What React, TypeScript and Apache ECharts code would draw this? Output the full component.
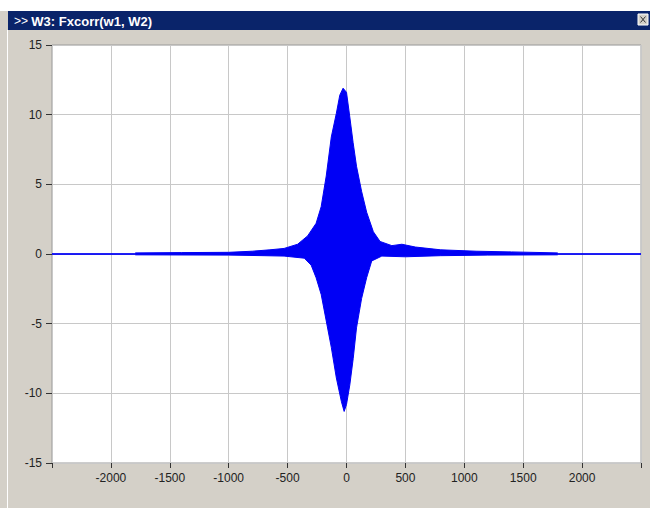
import React, { useEffect, useRef } from "react";
import * as echarts from "echarts";

const titleText = "W3: Fxcorr(w1, W2)";
const titlePrefix = ">>";

const xMin = -2500;
const xMax = 2500;
const xStep = 500;
const yMin = -15;
const yMax = 15;
const yStep = 5;

// upper envelope of the cross-correlation
const upperX = [-2500, -1800, -1790, -1400, -1000, -800, -650, -530, -415, -330, -258, -215, -172, -129, -86, -57, -29, 0, 27, 56, 85, 128, 171, 228, 285, 385, 470, 585, 800, 1100, 1400, 1790, 1800, 2500];
const upperY = [0, 0, 0.08, 0.1, 0.12, 0.2, 0.3, 0.4, 0.7, 1.3, 2.2, 3.4, 5.6, 8.4, 10.1, 11.4, 11.9, 11.6, 9.9, 8.0, 6.3, 4.5, 3.0, 1.6, 0.9, 0.6, 0.7, 0.5, 0.3, 0.2, 0.15, 0.08, 0, 0];

// lower envelope
const lowerX = [-2500, -1800, -1790, -1000, -700, -530, -358, -300, -258, -215, -172, -129, -86, -43, -20, 0, 28, 57, 85, 128, 171, 214, 300, 500, 800, 1200, 1790, 1800, 2500];
const lowerY = [0, 0, -0.06, -0.08, -0.12, -0.15, -0.3, -0.8, -1.7, -2.9, -4.8, -6.7, -8.9, -10.6, -11.3, -10.8, -9.4, -7.5, -5.3, -3.2, -1.7, -0.5, -0.15, -0.2, -0.12, -0.08, -0.06, 0, 0];

const baseX = [-2500, 2500];
const baseY = [0, 0];

const zip = (xs: number[], ys: number[]) => xs.map((x, i) => [x, ys[i]]);

export default function App() {
  const ref = useRef<HTMLDivElement>(null);
  useEffect(() => {
    document.body.style.margin = "0";
    const chart = echarts.init(ref.current!, null, { renderer: "svg" });
    const blue = "#0000f5";
    chart.setOption({
      animation: false,
      backgroundColor: "#d4d0c8",
      graphic: [
        { type: "rect", shape: { x: 0, y: 0, width: 650, height: 11 }, style: { fill: "#ffffff" }, silent: true },
        { type: "rect", shape: { x: 8, y: 11, width: 642, height: 19 }, style: { fill: "#0a246a" }, silent: true },
        { type: "rect", shape: { x: 7, y: 30, width: 1, height: 478 }, style: { fill: "#ffffff" }, silent: true },
        {
          type: "text",
          x: 14,
          y: 21,
          style: {
            text: "{a|" + titlePrefix + "} {b|" + titleText + "}",
            verticalAlign: "middle",
            rich: {
              a: { fill: "#ffffff", fontFamily: "Liberation Sans", fontSize: 12 },
              b: { fill: "#ffffff", fontFamily: "Liberation Sans", fontSize: 13, fontWeight: "bold" },
            },
          },
          silent: true,
        },
        { type: "rect", shape: { x: 638, y: 14, width: 10, height: 11 }, style: { fill: "#d4d0c8", stroke: "#ffffff", lineWidth: 1 }, silent: true },
        { type: "line", shape: { x1: 640.5, y1: 16.5, x2: 645.5, y2: 22.5 }, style: { stroke: "#333", lineWidth: 1 }, silent: true },
        { type: "line", shape: { x1: 645.5, y1: 16.5, x2: 640.5, y2: 22.5 }, style: { stroke: "#333", lineWidth: 1 }, silent: true },
      ],
      grid: {
        left: 52,
        right: 9,
        top: 45,
        bottom: 45,
        show: true,
        backgroundColor: "#ffffff",
        borderColor: "#9a9a9a",
        borderWidth: 1,
      },
      xAxis: {
        type: "value",
        min: xMin,
        max: xMax,
        interval: xStep,
        axisLine: { show: false, onZero: false },
        axisTick: { show: true, length: 5, lineStyle: { color: "#333" } },
        splitLine: { show: true, lineStyle: { color: "#c8c8c8", width: 1 } },
        axisLabel: {
          margin: 9,
          color: "#222",
          fontFamily: "Liberation Sans",
          fontSize: 12,
          formatter: (v: number) => (v === xMin || v === xMax ? "" : String(v)),
        },
      },
      yAxis: {
        type: "value",
        min: yMin,
        max: yMax,
        interval: yStep,
        axisLine: { show: false, onZero: false },
        axisTick: { show: true, length: 6, lineStyle: { color: "#333" } },
        splitLine: { show: true, lineStyle: { color: "#c8c8c8", width: 1 } },
        axisLabel: { margin: 10, color: "#222", fontFamily: "Liberation Sans", fontSize: 12 },
      },
      series: [
        {
          type: "line",
          data: zip(upperX, upperY),
          symbol: "none",
          lineStyle: { color: blue, width: 1 },
          areaStyle: { color: blue, opacity: 1 },
          z: 3,
        },
        {
          type: "line",
          data: zip(lowerX, lowerY),
          symbol: "none",
          lineStyle: { color: blue, width: 1 },
          areaStyle: { color: blue, opacity: 1 },
          z: 3,
        },
        {
          type: "line",
          data: zip(baseX, baseY),
          symbol: "none",
          lineStyle: { color: blue, width: 1 },
          z: 4,
        },
      ],
    });
    return () => chart.dispose();
  }, []);
  return <div ref={ref} style={{ width: 650, height: 508, position: "absolute", left: 0, top: 0 }} />;
}
